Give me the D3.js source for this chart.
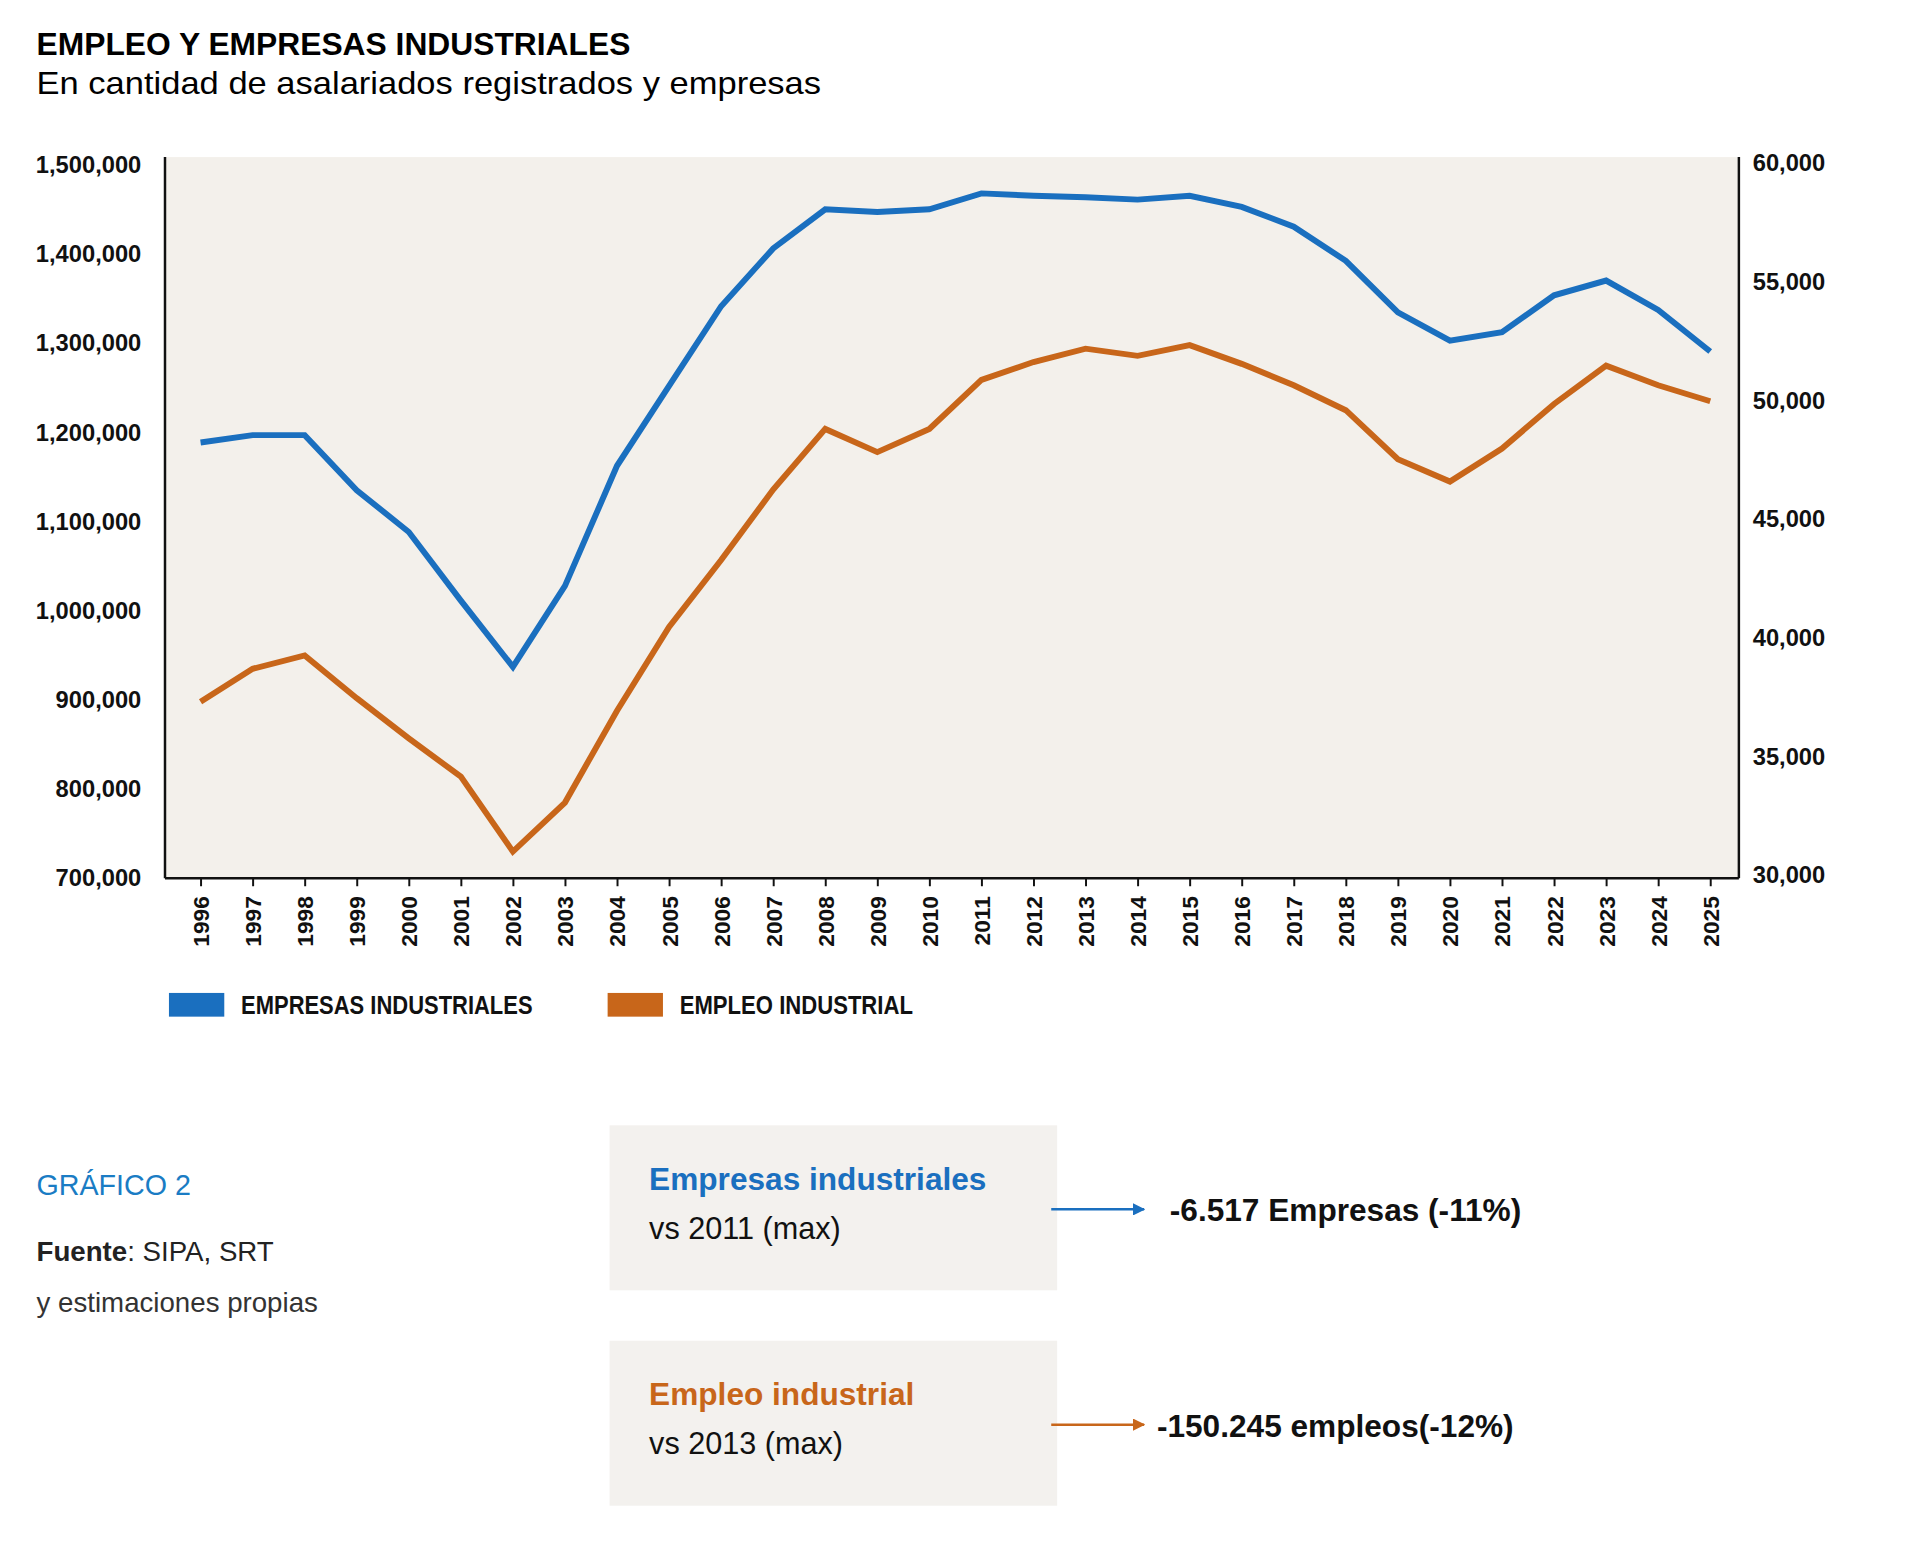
<!DOCTYPE html>
<html>
<head>
<meta charset="utf-8">
<script src="https://cdn.jsdelivr.net/npm/d3@7"></script>
<style>
  body { margin: 0; background: #fff; }
  text { font-family: "Liberation Sans Narrow", "Liberation Sans", Arial, sans-serif; }
</style>
</head>
<body>
<div id="chart"></div>
<script>
var years = d3.range(1996, 2026);
// EMPLEO INDUSTRIAL (left axis, asalariados)
var empleo = [898000, 935000, 950000, 902000, 857000, 814000, 730000, 785000, 888000, 982000,
  1057000, 1136000, 1204000, 1178000, 1204000, 1259000, 1279000, 1294000, 1286000, 1298000,
  1277000, 1253000, 1225000, 1170000, 1145000, 1182000, 1232000, 1275000, 1253000, 1235000];
// EMPRESAS INDUSTRIALES (right axis)
var empresas = [48230, 48540, 48540, 46220, 44460, 41570, 38780, 42190, 47250, 50610,
  53970, 56400, 58050, 57940, 58050, 58720, 58620, 58560, 58460, 58620,
  58150, 57320, 55880, 53710, 52520, 52880, 54430, 55050, 53810, 52060];
var leftTicks = d3.range(700000, 1500001, 100000);
var rightTicks = d3.range(30000, 60001, 5000);

var blue = "#1a6fbf", orange = "#c8661a";
var W = 1920, H = 1546;
var svg0 = d3.select("#chart").append("svg").attr("width", W).attr("height", H);
var svg = svg0.append("g").attr("transform", "scale(0.988)");

var plot = {left: 167, right: 1760, top: 159, bottom: 889};
var x = d3.scaleLinear().domain([1996, 2025]).range([203, 1731]);
var yL = d3.scaleLinear().domain([700000, 1500000]).range([889, 167]);
var yR = d3.scaleLinear().domain([30000, 60000]).range([886, 165]);
var sans = "'Liberation Sans', Arial, sans-serif";

// titles
svg.append("text").attr("x", 37).attr("y", 56).attr("font-size", 32).attr("font-weight", "bold")
  .style("font-family", sans).attr("textLength", 601).attr("lengthAdjust", "spacingAndGlyphs")
  .text("EMPLEO Y EMPRESAS INDUSTRIALES");
svg.append("text").attr("x", 37).attr("y", 95).attr("font-size", 31)
  .style("font-family", sans).attr("textLength", 794).attr("lengthAdjust", "spacingAndGlyphs")
  .text("En cantidad de asalariados registrados y empresas");

// background
svg.append("rect").attr("x", plot.left).attr("y", plot.top)
  .attr("width", plot.right - plot.left).attr("height", plot.bottom - plot.top)
  .attr("fill", "#f3f0eb");

var fmt = d3.format(",");
function styleAxis(g) {
  g.selectAll("path").attr("stroke", "#111").attr("stroke-width", 2.5);
  g.selectAll("line").attr("stroke", "#111").attr("stroke-width", 2);
  g.selectAll("text").attr("font-size", 24).attr("font-weight", "bold").attr("fill", "#111")
    .style("font-family", sans);
}
svg.append("g").attr("transform", "translate(" + plot.left + ",0)")
  .call(d3.axisLeft(yL).tickValues(leftTicks).tickFormat(fmt).tickSize(0).tickPadding(24))
  .call(styleAxis)
  .call(function (g) { g.select("path").attr("d", "M0," + plot.top + "V" + plot.bottom); });
svg.append("g").attr("transform", "translate(" + plot.right + ",0)")
  .call(d3.axisRight(yR).tickValues(rightTicks).tickFormat(fmt).tickSize(0).tickPadding(14))
  .call(styleAxis)
  .call(function (g) { g.select("path").attr("d", "M0," + plot.top + "V" + plot.bottom); });
var xa = svg.append("g").attr("transform", "translate(0," + plot.bottom + ")")
  .call(d3.axisBottom(x).tickValues(years).tickFormat(d3.format("d")).tickSize(8).tickSizeOuter(0))
  .call(styleAxis)
  .call(function (g) { g.select("path").attr("d", "M" + plot.left + ",0H" + plot.right); });
xa.selectAll("text").attr("transform", "rotate(-90)").attr("text-anchor", "end")
  .attr("x", -18).attr("y", 0).attr("dy", "0.35em").attr("font-size", 23);

// lines
var lineL = d3.line().x(function (d, i) { return x(years[i]); }).y(function (d) { return yL(d); });
var lineR = d3.line().x(function (d, i) { return x(years[i]); }).y(function (d) { return yR(d); });
svg.append("path").datum(empleo).attr("d", lineL).attr("fill", "none")
  .attr("stroke", orange).attr("stroke-width", 6);
svg.append("path").datum(empresas).attr("d", lineR).attr("fill", "none")
  .attr("stroke", blue).attr("stroke-width", 6);

// legend
var legend = [
  {label: "EMPRESAS INDUSTRIALES", color: blue, x: 171, w: 295},
  {label: "EMPLEO INDUSTRIAL", color: orange, x: 615, w: 236}
];
legend.forEach(function (l) {
  svg.append("rect").attr("x", l.x).attr("y", 1005).attr("width", 56).attr("height", 24).attr("fill", l.color);
  svg.append("text").attr("x", l.x + 73).attr("y", 1026).attr("font-size", 26).attr("font-weight", "bold")
    .attr("fill", "#111").attr("textLength", l.w).attr("lengthAdjust", "spacingAndGlyphs").text(l.label);
});

// notes
svg.append("text").attr("x", 37).attr("y", 1210).attr("font-size", 29).attr("fill", "#1a7cc4")
  .style("font-family", sans).text("GRÁFICO 2");
var f = svg.append("text").attr("x", 37).attr("y", 1276).attr("font-size", 28).style("font-family", sans).attr("fill", "#222");
f.append("tspan").attr("font-weight", "bold").text("Fuente");
f.append("tspan").text(": SIPA, SRT");
svg.append("text").attr("x", 37).attr("y", 1328).attr("font-size", 28).style("font-family", sans)
  .attr("fill", "#333").text("y estimaciones propias");

var boxes = [
  {title: "Empresas industriales", sub: "vs 2011 (max)", value: "-6.517 Empresas (-11%)", color: blue, y: 1139, vx: 1184},
  {title: "Empleo industrial", sub: "vs 2013 (max)", value: "-150.245 empleos(-12%)", color: orange, y: 1357, vx: 1171}
];
var defs = svg0.append("defs");
boxes.forEach(function (b, i) {
  defs.append("marker").attr("id", "arr" + i).attr("viewBox", "0 0 10 10").attr("refX", 9).attr("refY", 5)
    .attr("markerWidth", 5).attr("markerHeight", 5).attr("orient", "auto")
    .append("path").attr("d", "M0,0L10,5L0,10z").attr("fill", b.color);
  svg.append("rect").attr("x", 617).attr("y", b.y).attr("width", 453).attr("height", 167).attr("fill", "#f3f1ee");
  svg.append("text").attr("x", 657).attr("y", b.y + 65).attr("font-size", 32).attr("font-weight", "bold")
    .style("font-family", sans).attr("fill", b.color).text(b.title);
  svg.append("text").attr("x", 657).attr("y", b.y + 115).attr("font-size", 31)
    .style("font-family", sans).attr("fill", "#111").text(b.sub);
  svg.append("line").attr("x1", 1064).attr("x2", 1158).attr("y1", b.y + 85).attr("y2", b.y + 85)
    .attr("stroke", b.color).attr("stroke-width", 2.5).attr("marker-end", "url(#arr" + i + ")");
  svg.append("text").attr("x", b.vx).attr("y", b.y + 97).attr("font-size", 32).attr("font-weight", "bold")
    .style("font-family", sans).attr("fill", "#111").text(b.value);
});
</script>
</body>
</html>
